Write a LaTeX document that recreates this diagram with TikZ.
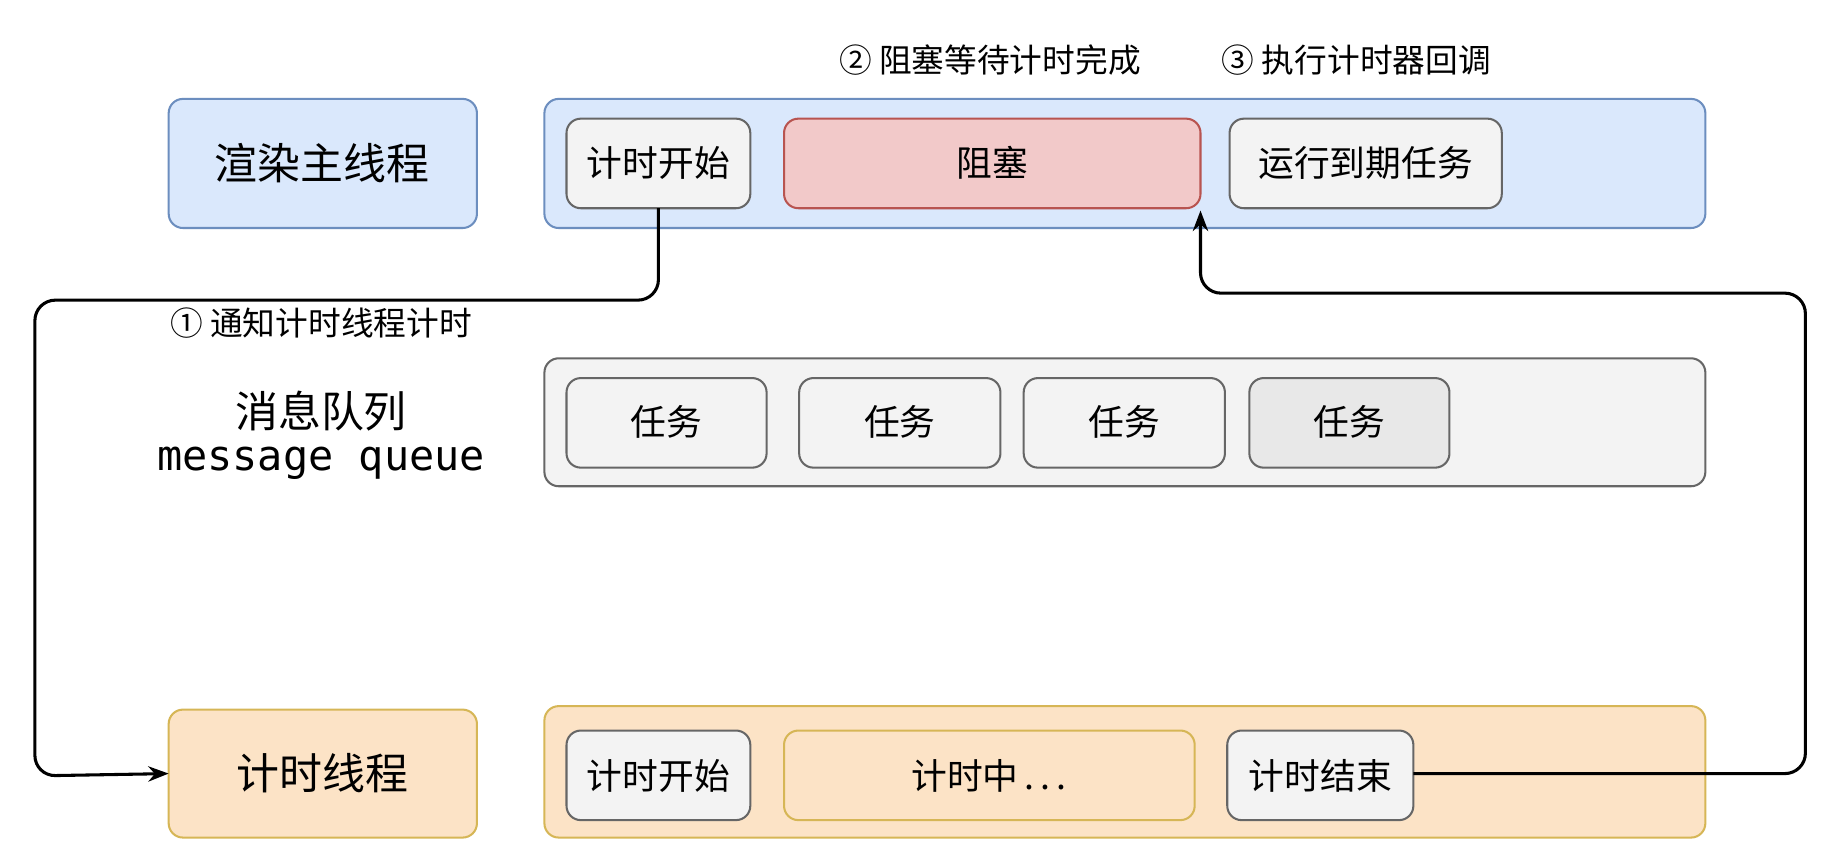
\documentclass[tikz,border=0pt]{standalone}
\usepackage{fontspec}
\usetikzlibrary{arrows.meta}
\setmainfont{Noto Sans CJK SC}
\newfontfamily\monof{DejaVu Sans Mono}
\definecolor{bfill}{HTML}{DAE8FC}\definecolor{bline}{HTML}{6C8EBF}
\definecolor{rfill}{HTML}{F2C9C9}\definecolor{rline}{HTML}{B85450}
\definecolor{ofill}{HTML}{FCE3C6}\definecolor{oline}{HTML}{D6B656}
\definecolor{gfill}{HTML}{F3F3F3}\definecolor{gline}{HTML}{666666}
\begin{document}
\begin{tikzpicture}[x=0.02cm,y=-0.02cm,
  box/.style={draw, rounded corners=7pt, line width=1pt, inner sep=0pt},
  blue/.style={box, fill=bfill, draw=bline},
  gray/.style={box, fill=gfill, draw=gline},
  red/.style={box, fill=rfill, draw=rline},
  orange/.style={box, fill=ofill, draw=oline},
  arr/.style={-{Stealth[length=10pt]}, line width=1.5pt, rounded corners=10pt},
  big/.style={font=\fontsize{21}{24}\selectfont},
  mid/.style={font=\fontsize{17.5}{20}\selectfont},
  lab/.style={font=\fontsize{16}{18}\selectfont}]
\useasboundingbox (0,0) rectangle (1568,738);
\fill[white] (0,0) rectangle (1568,738);
% row 1
\draw[blue] (145,85) rectangle (410,196);
\node[big] (rm) at (277,140) {渲染主线程};
\draw[blue] (468,85) rectangle (1466,196);
\draw[gray] (487,102) rectangle (645,179);
\node[mid] (ts1) at (566,140) {计时开始};
\coordinate (ts1b) at (566,179);
\draw[red] (674,102) rectangle (1032,179);
\node[mid] at (853,140) {阻塞};
\coordinate (zsb) at (1032,181);
\draw[gray] (1057,102) rectangle (1291,179);
\node[mid] at (1174,140) {运行到期任务};
\node[lab] at (851,52) {② 阻塞等待计时完成};
\node[lab] at (1166,52) {③ 执行计时器回调};
\node[lab] at (276,278) {① 通知计时线程计时};
% queue
\node[big] at (276,353) {消息队列};
\node[font=\monof\fontsize{20.5}{22}\selectfont] at (276,398) {message queue};
\draw[gray] (468,308) rectangle (1466,418);
\foreach \a/\b in {487/659,687/860,880/1053}{
  \draw[gray] (\a,325) rectangle (\b,402);
  \node[mid] at ({(\a+\b)/2},363) {任务};}
\draw[gray, fill=gray!18] (1074,325) rectangle (1246,402);
\node[mid] at (1160,363) {任务};
% timer row
\draw[orange] (145,610) rectangle (410,720);
\node[big] (tt) at (277,665) {计时线程};
\coordinate (ttw) at (145,665);
\draw[orange] (468,607) rectangle (1466,720);
\draw[gray] (487,628) rectangle (645,705);
\node[mid] at (566,667) {计时开始};
\draw[orange] (674,628) rectangle (1027,705);
\node[mid] at (850,667) {计时中\,.\,.\,.};
\draw[gray] (1055,628) rectangle (1215,705);
\node[mid] at (1135,667) {计时结束};
\coordinate (tee) at (1215,665);
% arrows
\draw[arr] (ts1b) -- (566,258) -- (30,258) -- (30,667) -- (ttw);
\draw[arr] (tee) -- (1552,665) -- (1552,252) -- (1032,252) -- (zsb);
\end{tikzpicture}
\end{document}
